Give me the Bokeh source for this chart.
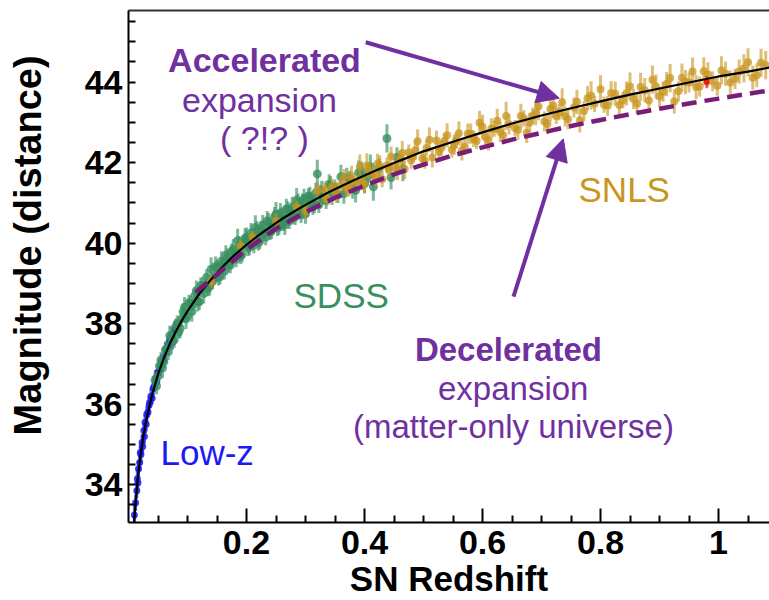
from bokeh.plotting import figure
from bokeh.models import (ColumnDataSource, Range1d, FixedTicker, LinearAxis,
                          Label, Arrow, NormalHead)
from bokeh.embed import file_html
from bokeh.resources import INLINE

# ---------------- data ----------------
x_tick_values = [0.2, 0.4, 0.6, 0.8, 1.0]
x_tick_labels = ["0.2", "0.4", "0.6", "0.8", "1"]
x_minor_values = [0.05, 0.1, 0.15, 0.25, 0.3, 0.35, 0.45, 0.5, 0.55, 0.65, 0.7,
                  0.75, 0.85, 0.9, 0.95, 1.05]
y_tick_values = [34, 36, 38, 40, 42, 44]
y_minor_values = [33.5, 34.5, 35, 35.5, 36.5, 37, 37.5, 38.5, 39, 39.5, 40.5, 41,
                  41.5, 42.5, 43, 43.5, 44.5, 45, 45.5]

lowz_z = [0.010, 0.012, 0.014, 0.015, 0.016, 0.017, 0.019, 0.020, 0.021, 0.023,
          0.024, 0.026, 0.027, 0.028, 0.030, 0.031, 0.033, 0.035, 0.036, 0.038,
          0.040, 0.042, 0.044, 0.046, 0.048, 0.050, 0.053, 0.056, 0.060, 0.063,
          0.066, 0.070, 0.074, 0.078]
lowz_mu = [33.25, 33.55, 33.85, 34.15, 34.05, 34.40, 34.55, 34.80, 34.75, 35.05,
           34.95, 35.35, 35.20, 35.55, 35.50, 35.75, 35.80, 35.98, 36.05, 36.20,
           36.15, 36.40, 36.45, 36.65, 36.55, 36.80, 36.85, 37.05, 37.10, 37.35,
           37.40, 37.60, 37.55, 37.85]
lowz_err = [0.25, 0.20, 0.20, 0.25, 0.20, 0.20, 0.20, 0.20, 0.20, 0.20,
            0.15, 0.20, 0.15, 0.20, 0.15, 0.20, 0.15, 0.20, 0.15, 0.20,
            0.15, 0.20, 0.15, 0.20, 0.15, 0.20, 0.15, 0.20, 0.20, 0.20,
            0.20, 0.20, 0.20, 0.20]

sdss_z = [0.045, 0.050, 0.055, 0.060, 0.065, 0.070, 0.075, 0.080, 0.085, 0.090,
          0.095, 0.100, 0.105, 0.110, 0.115, 0.120, 0.125, 0.130, 0.135, 0.140,
          0.145, 0.150, 0.155, 0.160, 0.165, 0.170, 0.175, 0.180, 0.185, 0.190,
          0.195, 0.200, 0.205, 0.210, 0.215, 0.220, 0.225, 0.230, 0.235, 0.240,
          0.245, 0.250, 0.255, 0.260, 0.265, 0.270, 0.275, 0.280, 0.285, 0.290,
          0.295, 0.300, 0.305, 0.310, 0.315, 0.320, 0.325, 0.330, 0.340, 0.345,
          0.350, 0.360, 0.365, 0.375, 0.385, 0.395, 0.405, 0.415, 0.425, 0.438,
          0.445, 0.455, 0.465,
          0.0475, 0.0525, 0.0575, 0.0625, 0.0675, 0.0725, 0.0775, 0.0825, 0.0875,
          0.0925, 0.0975, 0.1025, 0.1075, 0.1125, 0.1175, 0.1225, 0.1275, 0.1325,
          0.1375, 0.1425, 0.1475, 0.1525, 0.1575, 0.1625, 0.1675, 0.1725, 0.1775,
          0.1825, 0.1875, 0.1925, 0.1975, 0.2025, 0.2075, 0.2125, 0.2175, 0.2225,
          0.2275, 0.2325, 0.2375, 0.2425, 0.2475, 0.2525, 0.2575, 0.2625, 0.2675,
          0.2725, 0.2775, 0.2825, 0.2875, 0.2925, 0.2975, 0.3025, 0.3075, 0.3125,
          0.3175, 0.3225, 0.3275, 0.3350, 0.3425, 0.3550, 0.3700, 0.3800, 0.3900,
          0.4000, 0.4100]
sdss_mu = [36.60, 36.69, 37.10, 37.05, 37.38, 37.70, 37.57, 37.92, 37.79, 38.12,
           38.41, 38.19, 38.50, 38.48, 38.82, 38.54, 38.94, 38.95, 38.88, 39.35,
           39.13, 39.39, 39.17, 39.48, 39.70, 39.47, 39.79, 39.68, 40.06, 39.68,
           39.98, 40.14, 39.90, 40.13, 40.39, 40.01, 40.34, 40.25, 40.55, 40.28,
           40.48, 40.72, 40.40, 40.68, 40.45, 40.84, 40.74, 40.68, 41.07, 40.82,
           41.03, 40.73, 41.17, 41.05, 40.95, 41.72, 41.25, 41.11, 41.46, 41.15,
           41.38, 41.65, 41.23, 41.60, 41.31, 41.78, 41.64, 41.40, 41.86, 42.60,
           41.63, 42.13, 41.84,
           36.45, 36.95, 36.90, 37.35, 37.30, 37.68, 37.60, 38.00, 37.88,
           38.30, 38.12, 38.52, 38.30, 38.70, 38.55, 38.95, 38.75, 39.15,
           38.95, 39.05, 39.42, 39.15, 39.55, 39.30, 39.62, 39.45, 39.85,
           39.60, 39.92, 39.72, 40.12, 39.88, 40.25, 39.95, 40.30, 40.05,
           40.45, 40.15, 40.50, 40.30, 40.65, 40.38, 40.75, 40.50, 40.85,
           40.55, 40.90, 40.65, 40.98, 40.70, 41.10, 40.85, 41.15, 40.90,
           41.25, 40.95, 41.30, 41.05, 41.42, 41.20, 41.62, 41.35, 41.75,
           41.48, 41.90]
sdss_err = [0.20, 0.15, 0.20, 0.15, 0.20, 0.25, 0.15, 0.20, 0.15, 0.20,
            0.25, 0.15, 0.20, 0.15, 0.25, 0.20, 0.20, 0.15, 0.20, 0.30,
            0.15, 0.20, 0.20, 0.15, 0.25, 0.20, 0.20, 0.15, 0.30, 0.20,
            0.15, 0.25, 0.20, 0.15, 0.30, 0.20, 0.20, 0.15, 0.25, 0.20,
            0.15, 0.30, 0.20, 0.20, 0.25, 0.20, 0.15, 0.20, 0.30, 0.20,
            0.20, 0.25, 0.20, 0.15, 0.20, 0.35, 0.20, 0.15, 0.25, 0.20,
            0.20, 0.30, 0.25, 0.20, 0.30, 0.25, 0.20, 0.35, 0.25, 0.35,
            0.30, 0.25, 0.30,
            0.20, 0.20, 0.25, 0.20, 0.20, 0.25, 0.20, 0.20, 0.25,
            0.20, 0.25, 0.20, 0.25, 0.20, 0.25, 0.20, 0.25, 0.20,
            0.25, 0.20, 0.25, 0.20, 0.25, 0.20, 0.25, 0.20, 0.25,
            0.20, 0.25, 0.20, 0.25, 0.20, 0.25, 0.20, 0.25, 0.20,
            0.25, 0.20, 0.25, 0.20, 0.25, 0.20, 0.25, 0.20, 0.25,
            0.20, 0.25, 0.20, 0.25, 0.20, 0.25, 0.20, 0.25, 0.20,
            0.25, 0.20, 0.25, 0.20, 0.25, 0.20, 0.25, 0.25, 0.30,
            0.25, 0.30]

snls_z = [0.140, 0.190, 0.210, 0.250, 0.285, 0.300, 0.320, 0.335, 0.345, 0.360,
          0.370, 0.378, 0.385, 0.392, 0.400, 0.408, 0.415, 0.422, 0.430, 0.438,
          0.445, 0.452, 0.460, 0.468, 0.475, 0.482, 0.490, 0.498, 0.505, 0.515,
          0.522, 0.530, 0.540, 0.548, 0.555, 0.565, 0.575, 0.585, 0.595, 0.605,
          0.615, 0.625, 0.635, 0.645, 0.655, 0.665, 0.675, 0.685, 0.695, 0.705,
          0.715, 0.725, 0.735, 0.745, 0.755, 0.765, 0.778, 0.790, 0.800, 0.812,
          0.825, 0.838, 0.850, 0.862, 0.875, 0.888, 0.900, 0.912, 0.925, 0.938,
          0.950, 0.962, 0.975, 0.990, 1.005, 1.020, 1.035, 1.050, 1.065, 1.080,
          0.3325, 0.3525, 0.3655, 0.374, 0.396, 0.404, 0.419, 0.426, 0.441, 0.456,
          0.464, 0.479, 0.486, 0.502, 0.510, 0.526, 0.535, 0.552, 0.560, 0.570,
          0.580, 0.590, 0.600, 0.610, 0.620, 0.630, 0.640, 0.660, 0.670, 0.680,
          0.690, 0.710, 0.720, 0.730, 0.740, 0.760, 0.772, 0.784, 0.806, 0.818,
          0.832, 0.844, 0.856, 0.868, 0.882, 0.894, 0.906, 0.918, 0.932, 0.944,
          0.956, 0.968, 0.982, 0.998, 1.012, 1.028, 1.043, 1.058, 1.072]
snls_mu = [39.05, 39.93, 40.15, 40.55, 40.90, 40.80, 41.30, 41.10, 41.40, 41.45,
           41.35, 41.67, 41.51, 41.90, 41.46, 41.81, 41.73, 41.97, 41.59, 41.93,
           42.15, 41.87, 42.09, 41.84, 42.25, 42.16, 42.53, 42.11, 42.36, 42.13,
           42.55, 42.36, 42.68, 42.32, 42.55, 42.30, 42.72, 42.59, 42.99, 42.63,
           42.85, 43.04, 42.68, 42.95, 42.86, 43.16, 42.74, 43.16, 43.40, 43.02,
           43.33, 43.16, 43.50, 43.08, 43.37, 43.05, 43.60, 43.46, 43.82, 43.41,
           43.71, 43.55, 43.89, 43.46, 43.80, 44.06, 43.64, 43.95, 43.52, 44.11,
           43.99, 43.88, 44.27, 44.02, 44.29, 43.99, 44.26, 44.49, 44.17, 44.42,
           41.33, 41.25, 41.64, 41.41, 41.51, 41.93, 41.62, 41.93, 41.85, 41.81,
           42.24, 42.05, 42.31, 42.05, 42.57, 42.27, 42.53, 42.44, 42.73, 42.39,
           42.72, 42.54, 42.89, 42.55, 42.84, 42.76, 43.16, 42.81, 43.10, 42.99,
           43.23, 42.96, 43.41, 43.25, 43.15, 43.51, 43.28, 43.67, 43.44, 43.73,
           43.43, 43.72, 43.58, 43.88, 43.54, 43.89, 43.76, 44.10, 43.77, 44.00,
           44.26, 43.89, 44.19, 43.91, 44.21, 44.08, 44.34, 44.11, 44.48]
snls_err = [0.15, 0.15, 0.15, 0.20, 0.15, 0.20, 0.20, 0.15, 0.20, 0.15,
            0.20, 0.25, 0.15, 0.30, 0.20, 0.20, 0.15, 0.25, 0.20, 0.20,
            0.25, 0.20, 0.20, 0.25, 0.20, 0.15, 0.30, 0.20, 0.20, 0.25,
            0.25, 0.20, 0.30, 0.20, 0.20, 0.25, 0.25, 0.20, 0.30, 0.20,
            0.25, 0.30, 0.20, 0.25, 0.20, 0.30, 0.25, 0.20, 0.35, 0.25,
            0.30, 0.20, 0.35, 0.25, 0.25, 0.30, 0.30, 0.20, 0.35, 0.25,
            0.30, 0.20, 0.35, 0.25, 0.30, 0.35, 0.25, 0.30, 0.30, 0.35,
            0.25, 0.30, 0.35, 0.25, 0.35, 0.30, 0.30, 0.35, 0.30, 0.35,
            0.20, 0.25, 0.20, 0.25, 0.20, 0.30, 0.20, 0.25, 0.20, 0.25,
            0.30, 0.20, 0.25, 0.20, 0.30, 0.25, 0.20, 0.25, 0.30, 0.20,
            0.25, 0.20, 0.30, 0.25, 0.20, 0.25, 0.35, 0.25, 0.20, 0.25,
            0.30, 0.25, 0.30, 0.20, 0.25, 0.30, 0.25, 0.35, 0.20, 0.30,
            0.25, 0.30, 0.25, 0.35, 0.25, 0.30, 0.25, 0.35, 0.25, 0.30,
            0.35, 0.25, 0.30, 0.25, 0.30, 0.25, 0.35, 0.30, 0.35]

red_z = [0.980]
red_mu = [44.00]
red_err = [0.15]

model_z = [0.008, 0.010, 0.015, 0.020, 0.025, 0.030, 0.040, 0.050, 0.060, 0.070,
           0.080, 0.090, 0.100, 0.120, 0.140, 0.160, 0.180, 0.200, 0.220, 0.240,
           0.260, 0.280, 0.300, 0.340, 0.380, 0.420, 0.460, 0.500, 0.550, 0.600,
           0.650, 0.700, 0.750, 0.800, 0.850, 0.900, 0.950, 1.000, 1.050, 1.090]
model_mu = [32.70, 33.17, 34.06, 34.70, 35.19, 35.59, 36.23, 36.74, 37.15, 37.50,
            37.80, 38.07, 38.31, 38.74, 39.10, 39.42, 39.71, 39.96, 40.19, 40.40,
            40.60, 40.78, 40.95, 41.27, 41.55, 41.81, 42.05, 42.28, 42.52, 42.75,
            42.97, 43.17, 43.35, 43.52, 43.69, 43.84, 43.99, 44.14, 44.26, 44.37]

matter_z = [0.114, 0.150, 0.200, 0.250, 0.300, 0.350, 0.400, 0.450, 0.500, 0.550,
            0.600, 0.650, 0.700, 0.750, 0.800, 0.850, 0.900, 0.950, 1.000, 1.050,
            1.090]
matter_mu = [38.78, 39.22, 39.84, 40.36, 40.77, 41.13, 41.43, 41.71, 41.95, 42.18,
             42.38, 42.57, 42.74, 42.91, 43.06, 43.20, 43.34, 43.47, 43.59, 43.71,
             43.80]

# ---------------- styles ----------------
PURPLE = "#7030A0"
DASH_PURPLE = "#781E78"
BLUE = "#1A1AF5"
GREEN = "#38905F"
GOLD = "#C8951F"
FONT = "Liberation Sans"

p = figure(width=769, height=600, output_backend="svg", toolbar_location=None,
           x_range=Range1d(0, 1.0864), y_range=Range1d(33.062, 45.778),
           min_border_left=128, min_border_right=0, min_border_top=10,
           min_border_bottom=75)
p.outline_line_color = None
p.grid.visible = False


def errset(z, mu, err, color, size=7, alpha=0.8, lw=2.5):
    src = ColumnDataSource(dict(
        z=z, mu=mu,
        lo=[m - e for m, e in zip(mu, err)],
        hi=[m + e for m, e in zip(mu, err)]))
    p.segment(x0="z", y0="lo", x1="z", y1="hi", source=src, line_color=color,
              line_width=lw, line_alpha=alpha * 0.8)
    p.scatter(x="z", y="mu", source=src, size=size, fill_color=color,
              line_color=None, fill_alpha=alpha)


errset(lowz_z, lowz_mu, lowz_err, BLUE, size=7, alpha=0.85, lw=3)
errset(sdss_z, sdss_mu, sdss_err, GREEN, size=9, alpha=0.8, lw=3)
errset(snls_z, snls_mu, snls_err, GOLD, size=8, alpha=0.75, lw=3)
errset(red_z, red_mu, red_err, "#F01010", size=6, alpha=0.9)

p.line(model_z, model_mu, line_color="black", line_width=2.2)
p.line(matter_z, matter_mu, line_color=DASH_PURPLE, line_width=4.5,
       line_dash="15 8")

# ---------------- axes ----------------
xa = p.xaxis[0]
xa.ticker = FixedTicker(ticks=x_tick_values, minor_ticks=x_minor_values)
xa.major_label_overrides = {v: t for v, t in zip(x_tick_values, x_tick_labels)}
ya = p.yaxis[0]
ya.ticker = FixedTicker(ticks=y_tick_values, minor_ticks=y_minor_values)

for ax in (xa, ya):
    ax.axis_line_width = 2
    ax.axis_line_color = "black"
    ax.major_tick_line_width = 2
    ax.minor_tick_line_width = 2
    ax.major_tick_out = 0
    ax.minor_tick_out = 0
    ax.minor_tick_in = 7
    ax.major_label_text_font = FONT
    ax.major_label_text_font_style = "bold"
    ax.major_label_text_font_size = "34px"
    ax.major_label_text_color = "black"
    ax.axis_label_text_font = FONT
    ax.axis_label_text_font_style = "bold"
    ax.axis_label_text_color = "black"

xa.major_tick_in = 14
xa.major_label_standoff = 8
xa.axis_label = "SN Redshift"
xa.axis_label_text_font_size = "35px"
xa.axis_label_standoff = 2

ya.major_tick_in = 7
ya.major_label_standoff = 6
# leading no-break spaces move the centred title up to where the reference has it
ya.axis_label = "\u00a0\u00a0\u00a0\u00a0Magnitude (distance)"
ya.axis_label_text_font_size = "38px"
ya.axis_label_standoff = 33

top = LinearAxis(ticker=FixedTicker(ticks=[], minor_ticks=[]),
                 major_tick_line_color=None, minor_tick_line_color=None,
                 major_label_text_font_size="0px", axis_line_color="#333333",
                 axis_line_width=2)
p.add_layout(top, "above")

# ---------------- annotations ----------------
def lab(x, y, text, color, size="33px", style="normal", align="left"):
    p.add_layout(Label(x=x, y=y, text=text, text_color=color,
                       text_font=FONT, text_font_size=size,
                       text_font_style=style, text_align=align,
                       text_baseline="alphabetic"))


lab(0.2305, 44.54, "Accelerated", PURPLE, size="34px", style="bold", align="center")
lab(0.222, 43.56, "expansion", PURPLE, size="34px", align="center")
lab(0.2305, 42.62, "( ?!? )", PURPLE, size="34px", align="center")

lab(0.644, 37.36, "Decelerated", PURPLE, size="33px", style="bold", align="center")
lab(0.652, 36.395, "expansion", PURPLE, size="33px", align="center")
lab(0.6525, 35.457, "(matter-only universe)", PURPLE, size="33px", align="center")

lab(0.0542, 34.79, "Low-z", BLUE, size="35px")
lab(0.2797, 38.69, "SDSS", GREEN, size="35px")
lab(0.7627, 41.333, "SNLS", GOLD, size="35px")

p.add_layout(Arrow(end=NormalHead(size=22, fill_color=PURPLE, line_color=PURPLE),
                   x_start=0.402, y_start=44.99, x_end=0.730, y_end=43.60,
                   line_color=PURPLE, line_width=4))
p.add_layout(Arrow(end=NormalHead(size=22, fill_color=PURPLE, line_color=PURPLE),
                   x_start=0.6525, y_start=38.67, x_end=0.737, y_end=42.59,
                   line_color=PURPLE, line_width=4))

open("out.html", "w").write(file_html(p, INLINE))
